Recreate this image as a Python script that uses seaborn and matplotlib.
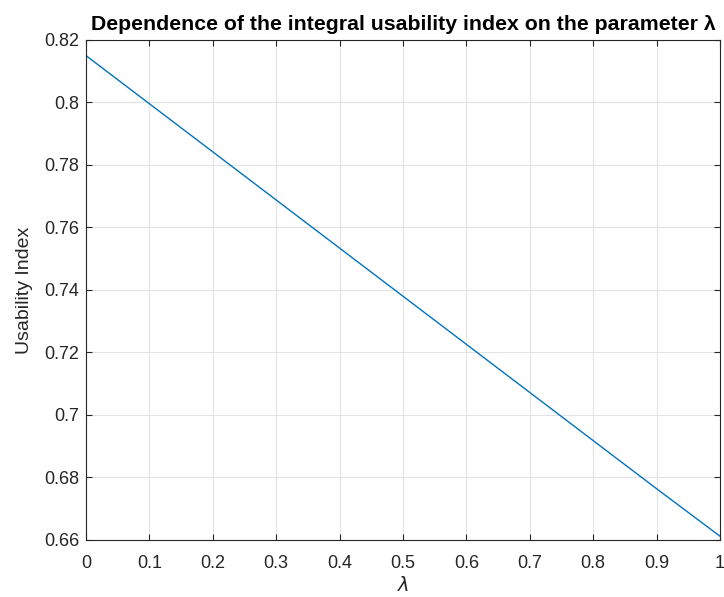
"""
Usability index vs lambda - line chart in MATLAB-like style.
"""

import matplotlib
matplotlib.use('Agg')
import matplotlib.pyplot as plt
import seaborn as sns
import pandas as pd

# Data
lam = [0.0, 0.1, 0.2, 0.3, 0.4, 0.5, 0.6, 0.7, 0.8, 0.9, 1.0]
usability = [0.8150, 0.7996, 0.7842, 0.7688, 0.7534, 0.7380,
             0.7226, 0.7072, 0.6918, 0.6764, 0.6612]
x_ticks = [0, 0.1, 0.2, 0.3, 0.4, 0.5, 0.6, 0.7, 0.8, 0.9, 1]
x_tick_labels = ['0', '0.1', '0.2', '0.3', '0.4', '0.5', '0.6', '0.7', '0.8', '0.9', '1']
y_ticks = [0.66, 0.68, 0.70, 0.72, 0.74, 0.76, 0.78, 0.80, 0.82]
y_tick_labels = ['0.66', '0.68', '0.7', '0.72', '0.74', '0.76', '0.78', '0.8', '0.82']

sns.set_theme(style='whitegrid')
plt.rcParams['font.family'] = ['Liberation Sans', 'DejaVu Sans']

df = pd.DataFrame({'lambda': lam, 'usability': usability})

fig = plt.figure(figsize=(7.24, 5.97), dpi=100)
ax = fig.add_axes([0.1188, 0.0955, 0.8757, 0.8375])

sns.lineplot(data=df, x='lambda', y='usability', ax=ax, color='#0072BD', linewidth=1.0)

ax.set_xlim(0, 1)
ax.set_ylim(0.66, 0.82)
ax.set_xticks(x_ticks)
ax.set_xticklabels(x_tick_labels)
ax.set_yticks(y_ticks)
ax.set_yticklabels(y_tick_labels)

# MATLAB-like box, grid and ticks
ax.set_facecolor('white')
for side in ax.spines.values():
    side.set_visible(True)
    side.set_color('#262626')
    side.set_linewidth(0.8)
ax.grid(True, color='#e3e3e3', linewidth=0.8)
ax.tick_params(axis='both', which='both', direction='in', length=4, width=0.8,
               color='#262626', labelcolor='#262626', labelsize=13,
               top=True, right=True, bottom=True, left=True)
ax.tick_params(axis='x', pad=11)
ax.tick_params(axis='y', pad=5)

ax.set_title('Dependence of the integral usability index on the parameter λ',
             fontsize=15.3, fontweight='bold', color='black', pad=7)
ax.set_xlabel(r'$\lambda$', fontsize=14, color='#262626', labelpad=3)
ax.set_ylabel('Usability Index', fontsize=14, color='#262626', labelpad=8)

fig.savefig('out.png', dpi=100)
